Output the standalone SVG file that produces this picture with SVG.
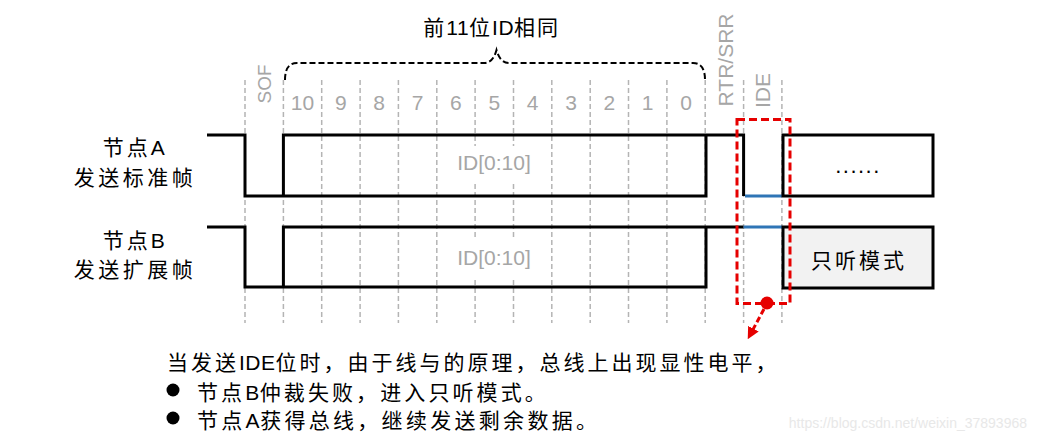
<svg xmlns="http://www.w3.org/2000/svg" width="1037" height="443" viewBox="0 0 1037 443">
<defs>
<style>
.grid{stroke:#b4b4b4;stroke-width:1.5;stroke-dasharray:5 3;fill:none}
.sig{stroke:#000;stroke-width:3;fill:none;stroke-linejoin:miter}
.blue{stroke:#2e75b6;stroke-width:3;fill:none}
.gt{font-family:"Liberation Sans",Arial,sans-serif;fill:#a6a6a6;font-size:21px}
.cn{font-family:"Liberation Sans","Noto Sans CJK SC",sans-serif;fill:#000;font-size:21px}
.lat{letter-spacing:0.5px}
.red{stroke:#e60000;stroke-width:3;fill:none;stroke-dasharray:8 4}
</style>
<marker id="arr" viewBox="0 0 10 10" refX="6" refY="5" markerWidth="4" markerHeight="4" orient="auto">
<path d="M0,0 L10,5 L0,10 z" fill="#e60000"/>
</marker>
</defs>
<rect width="1037" height="443" fill="#fff"/>
<g id="grid">
<line class="grid" x1="245" y1="80" x2="245" y2="323"/>
<line class="grid" x1="283.4" y1="80" x2="283.4" y2="323"/>
<line class="grid" x1="321.7" y1="80" x2="321.7" y2="323"/>
<line class="grid" x1="360.1" y1="80" x2="360.1" y2="323"/>
<line class="grid" x1="398.4" y1="80" x2="398.4" y2="323"/>
<line class="grid" x1="436.8" y1="80" x2="436.8" y2="323"/>
<line class="grid" x1="475.1" y1="80" x2="475.1" y2="323"/>
<line class="grid" x1="513.5" y1="80" x2="513.5" y2="323"/>
<line class="grid" x1="551.8" y1="80" x2="551.8" y2="323"/>
<line class="grid" x1="590.2" y1="80" x2="590.2" y2="323"/>
<line class="grid" x1="628.5" y1="80" x2="628.5" y2="323"/>
<line class="grid" x1="666.9" y1="80" x2="666.9" y2="323"/>
<line class="grid" x1="705.2" y1="80" x2="705.2" y2="323"/>
<line class="grid" x1="743.6" y1="80" x2="743.6" y2="323"/>
<line class="grid" x1="781.9" y1="80" x2="781.9" y2="323"/>
</g>
<g id="bit-labels" class="gt" text-anchor="middle">
<text x="302.5" y="110">10</text>
<text x="340.9" y="110">9</text>
<text x="379.2" y="110">8</text>
<text x="417.6" y="110">7</text>
<text x="455.9" y="110">6</text>
<text x="494.3" y="110">5</text>
<text x="532.6" y="110">4</text>
<text x="571" y="110">3</text>
<text x="609.3" y="110">2</text>
<text x="647.7" y="110">1</text>
<text x="686" y="110">0</text>
<text transform="translate(271,84) rotate(-90)" font-size="19">SOF</text>
<text transform="translate(733,60) rotate(-90)" font-size="21">RTR/SRR</text>
<text transform="translate(770,90.5) rotate(-90)" font-size="21">IDE</text>
</g>
<g id="brace">
<path d="M285,80 Q285,63 297,63 H484 Q493,63 496.5,50 Q500,63 509,63 H693 Q705,63 705,80" fill="none" stroke="#000" stroke-width="2" stroke-dasharray="6 3"/>
<text class="cn" x="491.7" y="35" text-anchor="middle" font-size="19" letter-spacing="2">前<tspan class="lat">11</tspan>位<tspan class="lat">ID</tspan>相同</text>
</g>
<g id="id-text">
<rect x="452" y="146" width="84" height="36" fill="#fff"/>
<rect x="452" y="238" width="84" height="40" fill="#fff"/>
<text class="gt" x="494" y="170" text-anchor="middle" font-size="22">ID[0:10]</text>
<text class="gt" x="494" y="265" text-anchor="middle" font-size="22">ID[0:10]</text>
</g>
<g id="node-a">
<text class="cn" x="134" y="155" text-anchor="middle" letter-spacing="3">节点<tspan class="lat">A</tspan></text>
<text class="cn" x="135" y="185" text-anchor="middle" letter-spacing="3.5">发送标准帧</text>
<path class="sig" d="M207,135 H245 V196 H706 V135"/>
<path class="sig" d="M283.4,196 V135 H743.6 V196"/>
<path class="blue" d="M745,196 H782"/>
<rect class="sig" x="783" y="135" width="150" height="61"/>
<text x="858" y="173" text-anchor="middle" font-family="Liberation Sans,Arial,sans-serif" font-size="22" letter-spacing="1.5" fill="#000">......</text>
</g>
<g id="node-b">
<text class="cn" x="134" y="248" text-anchor="middle" letter-spacing="3">节点<tspan class="lat">B</tspan></text>
<text class="cn" x="135" y="277" text-anchor="middle" letter-spacing="3.5">发送扩展帧</text>
<path class="sig" d="M207,227 H245 V287 H706 V227"/>
<path class="sig" d="M283.4,287 V227 H743.6"/>
<path class="blue" d="M743.6,227 H782"/>
<rect x="783" y="227" width="150" height="61" fill="#f2f2f2" stroke="#000" stroke-width="3"/>
<text class="cn" x="859" y="268" text-anchor="middle" font-size="22" letter-spacing="3">只听模式</text>
</g>
<g id="highlight">
<rect class="red" x="737" y="119.5" width="53" height="184"/>
<circle cx="767" cy="303" r="6.5" fill="#e60000"/>
<line x1="764" y1="309" x2="750" y2="335" stroke="#e60000" stroke-width="3" stroke-dasharray="6 3" marker-end="url(#arr)"/>
</g>
<g id="notes" class="cn" font-size="22">
<text x="167" y="370" letter-spacing="3">当发送<tspan class="lat">IDE</tspan>位时，由于线与的原理，总线上出现显性电平，</text>
<circle cx="173" cy="390" r="6.5" fill="#000"/>
<text x="197" y="400" letter-spacing="3.1">节点<tspan class="lat">B</tspan>仲裁失败，进入只听模式。</text>
<circle cx="173" cy="418" r="6.5" fill="#000"/>
<text x="197" y="428" letter-spacing="3.3">节点<tspan class="lat">A</tspan>获得总线，继续发送剩余数据。</text>
</g>
<text x="1027" y="428" text-anchor="end" font-family="Liberation Sans,Arial,sans-serif" font-size="14" fill="#e8e8e8">https://blog.csdn.net/weixin_37893968</text>
</svg>
